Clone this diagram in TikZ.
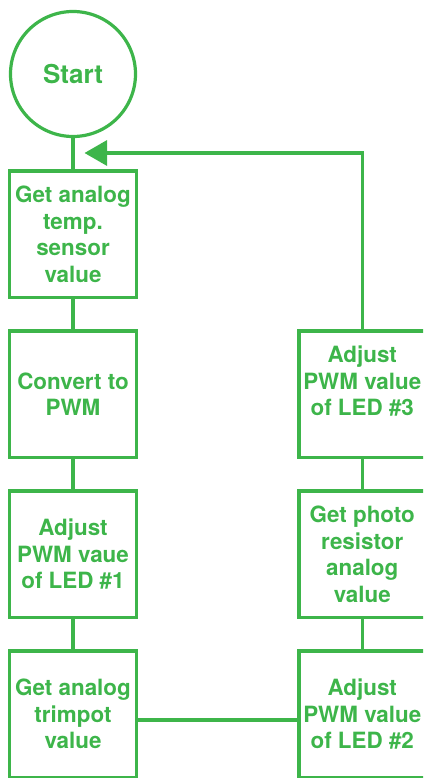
\documentclass[tikz,border=0pt]{standalone}
\usepackage{fontspec}
\setmainfont{TeX Gyre Heros}
\usetikzlibrary{arrows.meta}
\definecolor{flowgreen}{RGB}{61,181,74}
\begin{document}
\begin{tikzpicture}[x=1pt,y=-1pt,
  every node/.style={text=flowgreen, font=\bfseries\fontsize{22.4}{26.5}\selectfont},
  stepbox/.style={draw=flowgreen, line width=3.2pt, minimum width=126.5pt,
    minimum height=126.5pt, inner sep=0pt, align=center},
  startnode/.style={draw=flowgreen, line width=3.2pt, circle, minimum size=125pt,
    inner sep=0pt, font=\bfseries\fontsize{26}{31}\selectfont},
  link/.style={draw=flowgreen, line width=3.2pt}]
\path[use as bounding box, clip] (0,0) rectangle (423,778);

% left column
\node[startnode] (start) at (73,74) {Start};
\node[stepbox] (temp)  at (73,234.25) {Get analog\\temp.\\sensor\\value};
\node[stepbox] (pwm)   at (73,394.25) {Convert to\\PWM};
\node[stepbox] (led1)  at (73,554.25) {Adjust\\PWM vaue\\of LED \#1};
\node[stepbox] (trim)  at (73,714.25) {Get analog\\trimpot\\value};

% right column
\node[stepbox] (led2)  at (362.25,714.25) {Adjust\\PWM value\\of LED \#2};
\node[stepbox] (photo) at (362.25,554.25) {Get photo\\resistor\\analog\\value};
\node[stepbox] (led3)  at (362.25,394.25) {Adjust\\PWM value\\of LED \#3\\\mbox{}};

% connectors
\draw[link] (start) -- (temp);
\draw[link] (temp) -- (pwm);
\draw[link] (pwm) -- (led1);
\draw[link] (led1) -- (trim);
\draw[link] ([yshift=-5.75pt]trim.east) -- ([yshift=-5.75pt]led2.west);
\draw[link] (led2) -- (photo);
\draw[link] (photo) -- (led3);

% loop back to the top
\coordinate (tip) at (84.5,153);
\draw[link, -{Triangle[length=22.5pt,width=25pt]}] (led3.north) |- (tip);
\end{tikzpicture}
\end{document}
